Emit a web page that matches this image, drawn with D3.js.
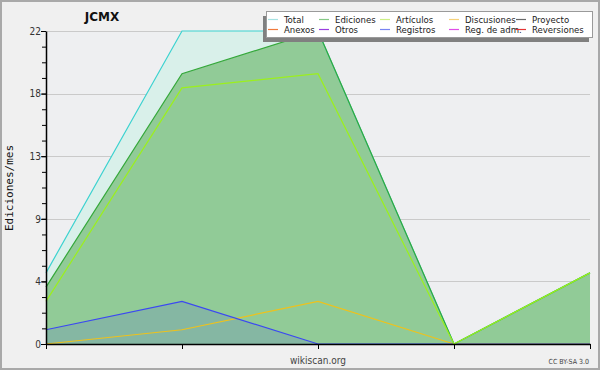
<!DOCTYPE html>
<html>
<head>
<meta charset="utf-8">
<script src="https://cdn.jsdelivr.net/npm/d3@7"></script>
<style>
  body { margin: 0; background: #f0f0f0; }
  svg { display: block; }
</style>
</head>
<body>
<div id="chart"></div>
<script>
// data (edits per month)
const months = ["m1", "m2", "m3", "m4", "m5"];
const total = [5, 22, 22, 0, 5];
const ediciones = [4, 19, 22, 0, 5];
const articulos = [3, 18, 19, 0, 5];
const registros = [1, 3, 0, 0, 0];
const discusiones = [0, 1, 3, 0, 0];

const yTicks = [0, 4.4, 8.8, 13.2, 17.6, 22];
const yMinor = d3.range(0, 22.01, 1.1);

const legendNames = ["Total", "Ediciones", "Artículos", "Discusiones", "Proyecto",
                     "Anexos", "Otros", "Registros", "Reg. de adm.", "Reversiones"];
const legendColors = ["#a6e2e2", "#86c986", "#cdef85", "#f6d27a", "#6a6a6a",
                      "#f07a3c", "#9a3ee0", "#7884f2", "#e04ee8", "#e43434"];

const W = 600, H = 370;
const margin = {top: 31, right: 10, bottom: 26, left: 46};

const svg = d3.select("#chart").append("svg")
  .attr("width", W).attr("height", H);

svg.append("rect").attr("x", 1).attr("y", 1).attr("width", W - 2).attr("height", H - 2)
  .attr("fill", "#f0f0f0").attr("stroke", "#a9a9a9").attr("stroke-width", 2);

const x = d3.scalePoint().domain(months).range([margin.left, W - margin.right]);
const y = d3.scaleLinear().domain([0, 22]).range([H - margin.bottom, margin.top]);

// plot background
svg.append("rect")
  .attr("x", x.range()[0]).attr("y", y(22))
  .attr("width", x.range()[1] - x.range()[0]).attr("height", y(0) - y(22))
  .attr("fill", "#eeeff1");

// grid
svg.append("g").selectAll("line").data(yTicks.slice(1)).join("line")
  .attr("x1", x.range()[0]).attr("x2", x.range()[1])
  .attr("y1", d => Math.round(y(d)) + 0.5).attr("y2", d => Math.round(y(d)) + 0.5)
  .attr("stroke", "#cacaca");

const area = vals => d3.area()
  .x((d, i) => x(months[i])).y0(y(0)).y1(d => y(d))(vals);
const line = vals => d3.line()
  .x((d, i) => x(months[i])).y(d => y(d))(vals);

svg.append("path").attr("d", area(total)).attr("fill", "#d9f0ea");
svg.append("path").attr("d", area(ediciones)).attr("fill", "#91cb97");
svg.append("path").attr("d", area(registros)).attr("fill", "rgba(64,64,240,0.14)");

svg.append("path").attr("d", line(total)).attr("fill", "none").attr("stroke", "#3cd2d0").attr("stroke-width", 1.2);
svg.append("path").attr("d", line(discusiones)).attr("fill", "none").attr("stroke", "#eec21c").attr("stroke-width", 1.2);
svg.append("path").attr("d", line(registros)).attr("fill", "none").attr("stroke", "#3b48f2").attr("stroke-width", 1.2);
svg.append("path").attr("d", line(ediciones)).attr("fill", "none").attr("stroke", "#34a83a").attr("stroke-width", 1.2);
svg.append("path").attr("d", line(articulos)).attr("fill", "none").attr("stroke", "#9cf01c").attr("stroke-width", 1.2);

// axes
const yMinorAxis = svg.append("g")
  .attr("transform", `translate(${margin.left},0)`)
  .call(d3.axisLeft(y).tickValues(yMinor).tickSize(4).tickFormat(""));
yMinorAxis.select(".domain").remove();

const yAxis = svg.append("g")
  .attr("transform", `translate(${margin.left},0)`)
  .call(d3.axisLeft(y).tickValues(yTicks).tickSize(5).tickSizeOuter(0).tickFormat(d3.format(".0f")));
yAxis.selectAll("text")
  .attr("font-family", "DejaVu Sans Condensed").attr("font-size", 10).attr("fill", "#333").attr("x", -5);

const xAxis = svg.append("g")
  .attr("transform", `translate(0,${y(0)})`)
  .call(d3.axisBottom(x).tickSize(5).tickSizeOuter(0).tickFormat(""));

svg.selectAll(".domain").attr("stroke", "#000").attr("stroke-width", 1.5);

// titles
svg.append("text").attr("x", 102).attr("y", 21).attr("text-anchor", "middle")
  .attr("font-family", "DejaVu Sans").attr("font-weight", "bold").attr("font-size", 12)
  .attr("fill", "#111").text("JCMX");

svg.append("text").attr("transform", "translate(13,188) rotate(-90)").attr("text-anchor", "middle")
  .attr("font-family", "DejaVu Sans Mono").attr("font-size", 11).attr("fill", "#111")
  .text("Ediciones/mes");

svg.append("text").attr("x", 318).attr("y", 364).attr("text-anchor", "middle")
  .attr("font-family", "DejaVu Sans Condensed").attr("font-size", 10).attr("fill", "#444")
  .text("wikiscan.org");

svg.append("text").attr("x", 589).attr("y", 364).attr("text-anchor", "end")
  .attr("font-family", "DejaVu Sans Condensed").attr("font-size", 7).attr("fill", "#444")
  .text("CC BY-SA 3.0");

// legend
const lg = svg.append("g");
lg.append("rect").attr("x", 263).attr("y", 16).attr("width", 326).attr("height", 26).attr("fill", "#808080");
lg.append("rect").attr("x", 266.5).attr("y", 11.5).attr("width", 326).attr("height", 26)
  .attr("fill", "#fff").attr("stroke", "#9a9a9a");

const colX = [268, 319, 380, 449, 516];
const item = lg.selectAll("g.item").data(legendNames).join("g")
  .attr("transform", (d, i) => `translate(${colX[i % 5]},${i < 5 ? 19.5 : 29.5})`);
item.append("line").attr("x1", 0).attr("x2", 10).attr("y1", 0).attr("y2", 0)
  .attr("stroke", (d, i) => legendColors[i]).attr("stroke-width", 1.2);
item.append("text").attr("x", 16).attr("y", 3.2).text(d => d)
  .attr("font-family", "DejaVu Sans Condensed").attr("font-size", 9.5).attr("fill", "#222");
</script>
</body>
</html>
